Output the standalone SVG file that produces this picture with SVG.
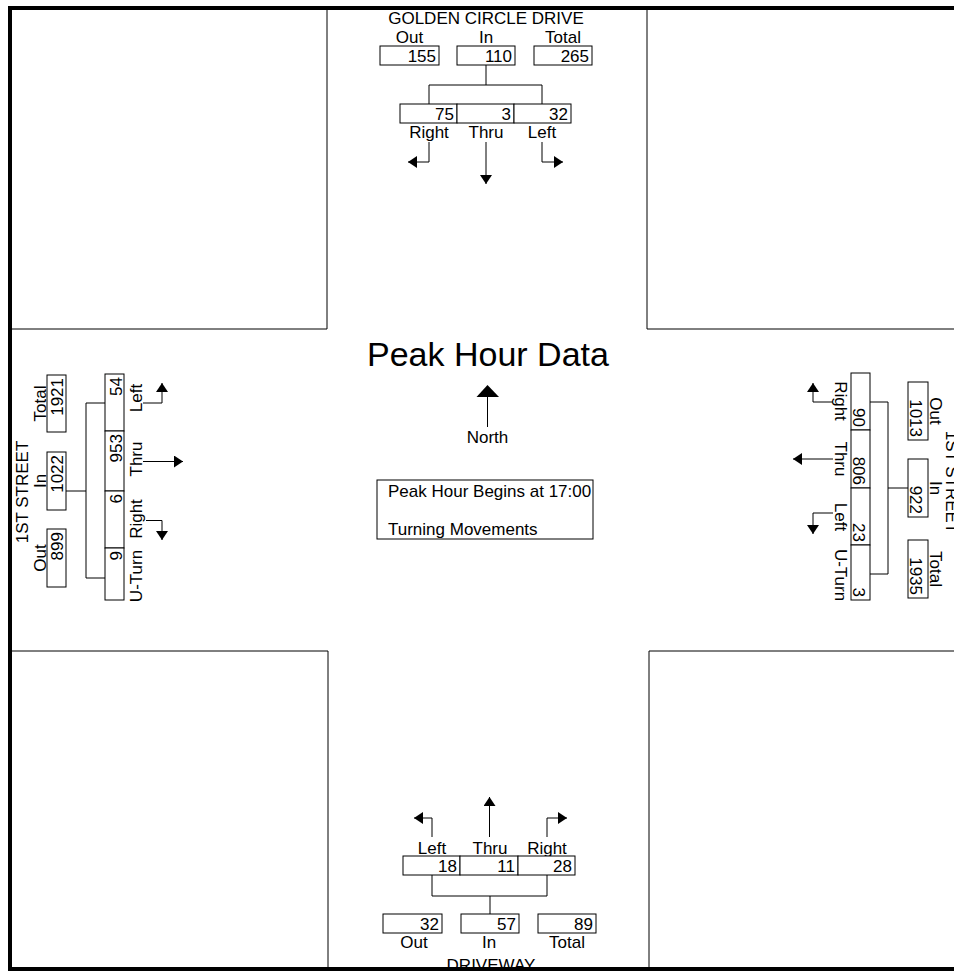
<svg xmlns="http://www.w3.org/2000/svg" width="954" height="971" viewBox="0 0 954 971">
<style>
text { font-family: "Liberation Sans", Arial, sans-serif; font-size: 17px; fill: #000; }
.m { text-anchor: middle; }
.e { text-anchor: end; }
.box { fill: #fff; stroke: #000; stroke-width: 1; }
.ln { fill: none; stroke: #000; stroke-width: 1; }
.arr { fill: none; stroke: #000; stroke-width: 1; marker-end: url(#ah); }
.frame { fill: none; stroke: #000; stroke-width: 4; }
</style>
<defs>
<marker id="ah" viewBox="0 0 10 10" refX="10" refY="5" markerWidth="9" markerHeight="12" markerUnits="userSpaceOnUse" orient="auto" preserveAspectRatio="none">
<path d="M0,0 L10,5 L0,10 z" fill="#000"/>
</marker>
</defs>
<rect width="954" height="971" fill="#fff"/>

<g id="blocks" class="ln">
<path d="M10,329 H327 V10"/>
<path d="M647,10 V329 H954"/>
<path d="M10,651 H328 V968"/>
<path d="M954,651 H649 V968"/>
</g>

<g id="connectors">
<path class="ln" d="M486,65 V85 M429,104 V85 H542 V104"/>
<path class="ln" d="M432,875 V896 H547 V875 M490,896 V914"/>
<path class="ln" d="M66,491 H86 M105,403 H86 V578 H105"/>
<path class="ln" d="M870,402 H888 V574 H870 M888,488 H908"/>
<path class="arr" d="M429,142 V162 H408"/>
<path class="arr" d="M486,142 V184"/>
<path class="arr" d="M542,142 V162 H563"/>
<path class="arr" d="M432,837 V818 H414"/>
<path class="arr" d="M489.5,837 V797"/>
<path class="arr" d="M547,837 V818 H567"/>
<path class="arr" d="M143,403 H162 V383"/>
<path class="arr" d="M143,461.5 H183"/>
<path class="arr" d="M146,520.5 H162 V540"/>
<path class="arr" d="M833,402 H813 V383"/>
<path class="arr" d="M833,459 H793"/>
<path class="arr" d="M833,513 H813 V534"/>
</g>

<g id="north">
<text class="m" x="486" y="24">GOLDEN CIRCLE DRIVE</text>
<g id="n-out"><text class="m" x="409.5" y="43">Out</text><rect class="box" x="380" y="46" width="59" height="19"/><text class="e" x="436" y="62">155</text></g>
<g id="n-in"><text class="m" x="486" y="43">In</text><rect class="box" x="457" y="46" width="58" height="19"/><text class="e" x="512" y="62">110</text></g>
<g id="n-total"><text class="m" x="563" y="43">Total</text><rect class="box" x="534" y="46" width="58" height="19"/><text class="e" x="589" y="62">265</text></g>
<g id="n-right"><rect class="box" x="400" y="104" width="57" height="19"/><text class="e" x="454" y="120">75</text><text class="m" x="429" y="138">Right</text></g>
<g id="n-thru"><rect class="box" x="457" y="104" width="57" height="19"/><text class="e" x="511" y="120">3</text><text class="m" x="486" y="138">Thru</text></g>
<g id="n-left"><rect class="box" x="514" y="104" width="57" height="19"/><text class="e" x="568" y="120">32</text><text class="m" x="542" y="138">Left</text></g>
</g>

<g id="south">
<g id="s-left"><text class="m" x="432" y="854">Left</text><rect class="box" x="403" y="856" width="57" height="19"/><text class="e" x="457" y="872">18</text></g>
<g id="s-thru"><text class="m" x="490" y="854">Thru</text><rect class="box" x="460" y="856" width="58" height="19"/><text class="e" x="515" y="872">11</text></g>
<g id="s-right"><text class="m" x="547" y="854">Right</text><rect class="box" x="518" y="856" width="57" height="19"/><text class="e" x="572" y="872">28</text></g>
<g id="s-out"><rect class="box" x="383" y="914" width="59" height="19"/><text class="e" x="439" y="930">32</text><text class="m" x="414" y="948">Out</text></g>
<g id="s-in"><rect class="box" x="461" y="914" width="58" height="19"/><text class="e" x="516" y="930">57</text><text class="m" x="489" y="948">In</text></g>
<g id="s-total"><rect class="box" x="538" y="914" width="58" height="19"/><text class="e" x="593" y="930">89</text><text class="m" x="567" y="948">Total</text></g>
<text class="m" x="491" y="971">DRIVEWAY</text>
</g>

<g id="west">
<text class="m" transform="translate(28,492) rotate(-90)">1ST STREET</text>
<g id="w-total"><text class="m" transform="translate(46,403.5) rotate(-90)">Total</text><rect class="box" x="47" y="375" width="19" height="57"/><text class="e" transform="translate(63,378) rotate(-90)">1921</text></g>
<g id="w-in"><text class="m" transform="translate(46,481) rotate(-90)">In</text><rect class="box" x="47" y="452" width="19" height="58"/><text class="e" transform="translate(63,455) rotate(-90)">1022</text></g>
<g id="w-out"><text class="m" transform="translate(46,558) rotate(-90)">Out</text><rect class="box" x="47" y="529" width="19" height="58"/><text class="e" transform="translate(63,532) rotate(-90)">899</text></g>
<g id="w-left"><rect class="box" x="105" y="374" width="19" height="57"/><text class="e" transform="translate(122,377) rotate(-90)">54</text><text class="m" transform="translate(142,398) rotate(-90)">Left</text></g>
<g id="w-thru"><rect class="box" x="105" y="431" width="19" height="60"/><text class="e" transform="translate(122,434) rotate(-90)">953</text><text class="m" transform="translate(142,459) rotate(-90)">Thru</text></g>
<g id="w-right"><rect class="box" x="105" y="491" width="19" height="57"/><text class="e" transform="translate(122,494) rotate(-90)">6</text><text class="m" transform="translate(142,519) rotate(-90)">Right</text></g>
<g id="w-uturn"><rect class="box" x="105" y="548" width="19" height="52"/><text class="e" transform="translate(122,551) rotate(-90)">9</text><text class="m" transform="translate(142,576) rotate(-90)">U-Turn</text></g>
</g>

<g id="east">
<text class="m" transform="translate(946,482) rotate(90)">1ST STREET</text>
<g id="e-right"><rect class="box" x="851" y="373" width="19" height="57"/><text class="e" transform="translate(853,427) rotate(90)">90</text><text class="m" transform="translate(835,401) rotate(90)">Right</text></g>
<g id="e-thru"><rect class="box" x="851" y="430" width="19" height="58"/><text class="e" transform="translate(853,485) rotate(90)">806</text><text class="m" transform="translate(835,459) rotate(90)">Thru</text></g>
<g id="e-left"><rect class="box" x="851" y="488" width="19" height="57"/><text class="e" transform="translate(853,542) rotate(90)">23</text><text class="m" transform="translate(835,517) rotate(90)">Left</text></g>
<g id="e-uturn"><rect class="box" x="851" y="545" width="19" height="55"/><text class="e" transform="translate(853,597) rotate(90)">3</text><text class="m" transform="translate(835,575) rotate(90)">U-Turn</text></g>
<g id="e-out"><rect class="box" x="908" y="382" width="20" height="58"/><text class="e" transform="translate(910,437) rotate(90)">1013</text><text class="m" transform="translate(930,411) rotate(90)">Out</text></g>
<g id="e-in"><rect class="box" x="908" y="459" width="20" height="58"/><text class="e" transform="translate(910,514) rotate(90)">922</text><text class="m" transform="translate(930,488) rotate(90)">In</text></g>
<g id="e-total"><rect class="box" x="908" y="540" width="20" height="58"/><text class="e" transform="translate(910,595) rotate(90)">1935</text><text class="m" transform="translate(930,569) rotate(90)">Total</text></g>
</g>

<g id="center">
<text x="367" y="366" style="font-size:34px">Peak Hour Data</text>
<g id="north-arrow"><path class="ln" d="M487.5,427 V396"/><path d="M476.5,397 L499,397 L487.5,385 z" fill="#000"/><text class="m" x="487.5" y="443">North</text></g>
<g id="info"><rect class="box" x="377" y="480" width="216" height="59"/><text x="388" y="497">Peak Hour Begins at 17:00</text><text x="388" y="535">Turning Movements</text></g>
</g>

<g id="frame" class="frame">
<path d="M954,8 H10 V969 H954"/>
</g>
</svg>
